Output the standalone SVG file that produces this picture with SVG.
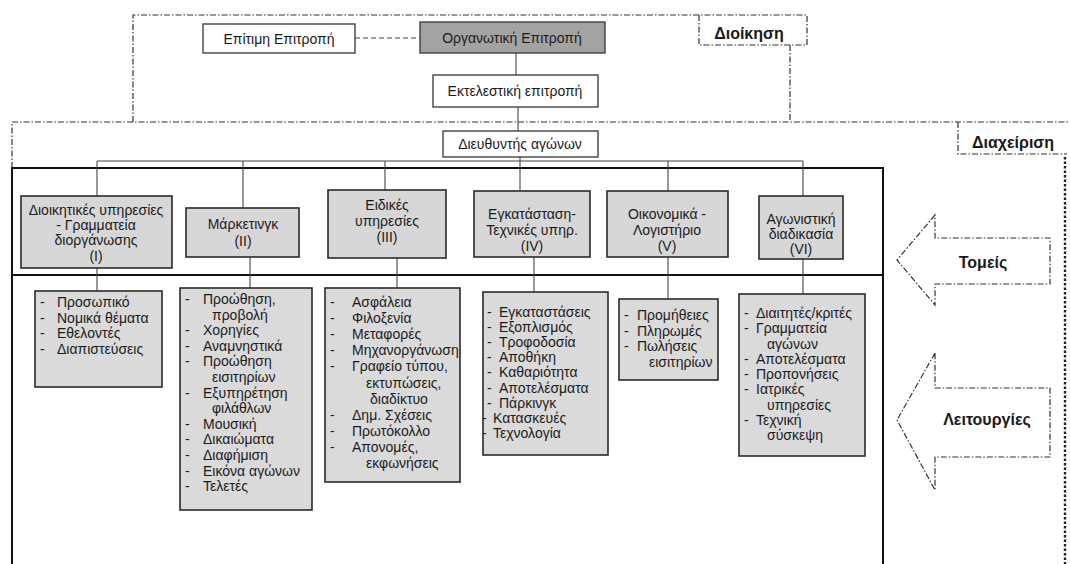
<svg xmlns="http://www.w3.org/2000/svg" width="1070" height="564" viewBox="0 0 1070 564">
<style>
text{font-family:"Liberation Sans",Arial,sans-serif;fill:#1a1a1a}
.hd{font-size:14px;text-anchor:middle}
.li{font-size:14px}
.lab{font-size:16px;font-weight:bold;text-anchor:middle}
.box{fill:#fff;stroke:#333;stroke-width:1.3}
.sec{fill:#d7d7d7;stroke:#2a2a2a;stroke-width:1.6}
.lst{fill:#dadada;stroke:#2a2a2a;stroke-width:1.6}
.dd{fill:none;stroke:#333;stroke-width:1.2;stroke-dasharray:6 2 1.5 2}
.dot{fill:none;stroke:#222;stroke-width:2.4;stroke-dasharray:2.5 2}
.ln{fill:none;stroke:#444;stroke-width:1.1}
.frame{fill:none;stroke:#111;stroke-width:2}
</style>

<g id="regions">
  <path class="dd" d="M133,122 V15 H807 V45 H699 V15"/>
  <path class="dd" d="M790,45 V122"/>
  <path class="dd" d="M12,168 V122 H1068"/>
  <path class="dd" d="M958,122 V154 H1067"/>
  <path class="dot" d="M1065,157 V564"/>
  <text class="lab" x="749" y="39">Διοίκηση</text>
  <text class="lab" x="1013" y="148">Διαχείριση</text>
</g>

<g id="frame">
  <rect class="frame" x="12" y="168" width="871" height="410"/>
  <line class="frame" x1="12" y1="275" x2="883" y2="275"/>
</g>

<g id="connectors">
  <line class="ln" x1="355" y1="38" x2="420" y2="38" stroke-dasharray="5 3"/>
  <line class="ln" x1="516" y1="53" x2="516" y2="75"/>
  <line class="ln" x1="518" y1="107" x2="518" y2="131"/>
  <line class="ln" x1="520" y1="157" x2="520" y2="190"/>
  <line class="ln" x1="97" y1="161" x2="803" y2="161"/>
  <line class="ln" x1="97" y1="161" x2="97" y2="196"/>
  <line class="ln" x1="243" y1="161" x2="243" y2="208"/>
  <line class="ln" x1="385" y1="161" x2="385" y2="190"/>
  <line class="ln" x1="668" y1="161" x2="668" y2="191"/>
  <line class="ln" x1="803" y1="161" x2="803" y2="196"/>
  <line class="ln" x1="97" y1="268" x2="97" y2="291"/>
  <line class="ln" x1="250" y1="257" x2="250" y2="288"/>
  <line class="ln" x1="397" y1="258" x2="397" y2="288"/>
  <line class="ln" x1="534" y1="257" x2="534" y2="292"/>
  <line class="ln" x1="668" y1="257" x2="668" y2="299"/>
  <line class="ln" x1="803" y1="259" x2="803" y2="294"/>
</g>

<g id="epitimi">
  <rect class="box" x="203" y="24" width="152" height="29"/>
  <text class="hd" x="279" y="43.5">Επίτιμη Επιτροπή</text>
</g>
<g id="organotiki">
  <rect x="420" y="22" width="185" height="31" fill="#a3a3a3" stroke="#333" stroke-width="1.3"/>
  <text class="hd" x="512" y="43">Οργανωτική Επιτροπή</text>
</g>
<g id="ektelestiki">
  <rect class="box" x="433" y="75" width="165" height="32"/>
  <text class="hd" x="515" y="96">Εκτελεστική επιτροπή</text>
</g>
<g id="diefthyntis">
  <rect class="box" x="443" y="131" width="155" height="26"/>
  <text class="hd" x="520" y="149">Διευθυντής αγώνων</text>
</g>

<g id="sec1">
  <rect class="sec" x="21" y="196" width="151" height="72"/>
  <text class="hd" x="96" y="215">Διοικητικές υπηρεσίες</text>
  <text class="hd" x="96" y="230">- Γραμματεία</text>
  <text class="hd" x="96" y="245">διοργάνωσης</text>
  <text class="hd" x="96" y="261">(I)</text>
</g>
<g id="sec2">
  <rect class="sec" x="186" y="208" width="113" height="49"/>
  <text class="hd" x="243" y="229">Μάρκετινγκ</text>
  <text class="hd" x="243" y="246">(II)</text>
</g>
<g id="sec3">
  <rect class="sec" x="328" y="190" width="118" height="68"/>
  <text class="hd" x="387" y="210">Ειδικές</text>
  <text class="hd" x="387" y="226">υπηρεσίες</text>
  <text class="hd" x="387" y="242">(III)</text>
</g>
<g id="sec4">
  <rect class="sec" x="474" y="191" width="116" height="66"/>
  <text class="hd" x="532" y="219">Εγκατάσταση-</text>
  <text class="hd" x="532" y="235">Τεχνικές υπηρ.</text>
  <text class="hd" x="532" y="251">(IV)</text>
</g>
<g id="sec5">
  <rect class="sec" x="607" y="191" width="121" height="66"/>
  <text class="hd" x="667" y="219">Οικονομικά -</text>
  <text class="hd" x="667" y="235">Λογιστήριο</text>
  <text class="hd" x="667" y="251">(V)</text>
</g>
<g id="sec6">
  <rect class="sec" x="759" y="196" width="84" height="63"/>
  <text class="hd" x="801" y="224">Αγωνιστική</text>
  <text class="hd" x="801" y="239">διαδικασία</text>
  <text class="hd" x="801" y="254">(VI)</text>
</g>

<g id="list1">
  <rect class="lst" x="35" y="291" width="127" height="96"/>
  <text class="li" x="40" y="307">-</text><text class="li" x="57" y="307">Προσωπικό</text>
  <text class="li" x="40" y="322.5">-</text><text class="li" x="57" y="322.5">Νομικά θέματα</text>
  <text class="li" x="40" y="338">-</text><text class="li" x="57" y="338">Εθελοντές</text>
  <text class="li" x="40" y="353.5">-</text><text class="li" x="57" y="353.5">Διαπιστεύσεις</text>
</g>
<g id="list2">
  <rect class="lst" x="180" y="288" width="132" height="222"/>
  <text class="li" x="185" y="304">-</text><text class="li" x="203" y="304">Προώθηση,</text>
  <text class="li" x="212" y="319.6">προβολή</text>
  <text class="li" x="185" y="335.2">-</text><text class="li" x="203" y="335.2">Χορηγίες</text>
  <text class="li" x="185" y="350.8">-</text><text class="li" x="203" y="350.8">Αναμνηστικά</text>
  <text class="li" x="185" y="366.4">-</text><text class="li" x="203" y="366.4">Προώθηση</text>
  <text class="li" x="212" y="382">εισιτηρίων</text>
  <text class="li" x="185" y="397.6">-</text><text class="li" x="203" y="397.6">Εξυπηρέτηση</text>
  <text class="li" x="212" y="413.2">φιλάθλων</text>
  <text class="li" x="185" y="428.8">-</text><text class="li" x="203" y="428.8">Μουσική</text>
  <text class="li" x="185" y="444.4">-</text><text class="li" x="203" y="444.4">Δικαιώματα</text>
  <text class="li" x="185" y="460">-</text><text class="li" x="203" y="460">Διαφήμιση</text>
  <text class="li" x="185" y="475.6">-</text><text class="li" x="203" y="475.6">Εικόνα αγώνων</text>
  <text class="li" x="185" y="491.2">-</text><text class="li" x="203" y="491.2">Τελετές</text>
</g>
<g id="list3">
  <rect class="lst" x="325" y="288" width="135" height="194"/>
  <text class="li" x="330" y="307">-</text><text class="li" x="352" y="307">Ασφάλεια</text>
  <text class="li" x="330" y="323.1">-</text><text class="li" x="352" y="323.1">Φιλοξενία</text>
  <text class="li" x="330" y="339.2">-</text><text class="li" x="352" y="339.2">Μεταφορές</text>
  <text class="li" x="330" y="355.3">-</text><text class="li" x="352" y="355.3">Μηχανοργάνωση</text>
  <text class="li" x="330" y="371.4">-</text><text class="li" x="352" y="371.4">Γραφείο τύπου,</text>
  <text class="li" x="366" y="387.5">εκτυπώσεις,</text>
  <text class="li" x="370" y="403.6">διαδίκτυο</text>
  <text class="li" x="330" y="419.7">-</text><text class="li" x="352" y="419.7">Δημ. Σχέσεις</text>
  <text class="li" x="330" y="435.8">-</text><text class="li" x="352" y="435.8">Πρωτόκολλο</text>
  <text class="li" x="330" y="451.9">-</text><text class="li" x="352" y="451.9">Απονομές,</text>
  <text class="li" x="366" y="468">εκφωνήσεις</text>
</g>
<g id="list4">
  <rect class="lst" x="483" y="292" width="125" height="163"/>
  <text class="li" x="487" y="317">-</text><text class="li" x="499" y="317">Εγκαταστάσεις</text>
  <text class="li" x="487" y="332.1">-</text><text class="li" x="499" y="332.1">Εξοπλισμός</text>
  <text class="li" x="487" y="347.2">-</text><text class="li" x="499" y="347.2">Τροφοδοσία</text>
  <text class="li" x="487" y="362.3">-</text><text class="li" x="499" y="362.3">Αποθήκη</text>
  <text class="li" x="487" y="377.4">-</text><text class="li" x="499" y="377.4">Καθαριότητα</text>
  <text class="li" x="487" y="392.5">-</text><text class="li" x="499" y="392.5">Αποτελέσματα</text>
  <text class="li" x="487" y="407.6">-</text><text class="li" x="499" y="407.6">Πάρκινγκ</text>
  <text class="li" x="482" y="422.7">-</text><text class="li" x="493" y="422.7">Κατασκευές</text>
  <text class="li" x="482" y="437.8">-</text><text class="li" x="493" y="437.8">Τεχνολογία</text>
</g>
<g id="list5">
  <rect class="lst" x="619" y="299" width="99" height="81"/>
  <text class="li" x="624" y="320">-</text><text class="li" x="637" y="320">Προμήθειες</text>
  <text class="li" x="624" y="336">-</text><text class="li" x="637" y="336">Πληρωμές</text>
  <text class="li" x="624" y="351">-</text><text class="li" x="637" y="351">Πωλήσεις</text>
  <text class="li" x="649" y="367">εισιτηρίων</text>
</g>
<g id="list6">
  <rect class="lst" x="739" y="294" width="126" height="162"/>
  <text class="li" x="744" y="318">-</text><text class="li" x="756" y="318">Διαιτητές/κριτές</text>
  <text class="li" x="744" y="333.25">-</text><text class="li" x="756" y="333.25">Γραμματεία</text>
  <text class="li" x="767" y="348.5">αγώνων</text>
  <text class="li" x="744" y="363.75">-</text><text class="li" x="756" y="363.75">Αποτελέσματα</text>
  <text class="li" x="744" y="379">-</text><text class="li" x="756" y="379">Προπονήσεις</text>
  <text class="li" x="744" y="394.25">-</text><text class="li" x="756" y="394.25">Ιατρικές</text>
  <text class="li" x="767" y="409.5">υπηρεσίες</text>
  <text class="li" x="744" y="424.75">-</text><text class="li" x="756" y="424.75">Τεχνική</text>
  <text class="li" x="767" y="440">σύσκεψη</text>
</g>

<g id="arrow-tomeis">
  <path class="dd" d="M935,215 L897,260 L935,305 V284 H1050 V238 H935 Z"/>
  <text class="lab" x="983" y="268">Τομείς</text>
</g>
<g id="arrow-leitourgies">
  <path class="dd" d="M935,353 L897,420 L935,490 V457 H1050 V388 H935 Z"/>
  <text class="lab" x="987" y="425">Λειτουργίες</text>
</g>
</svg>
